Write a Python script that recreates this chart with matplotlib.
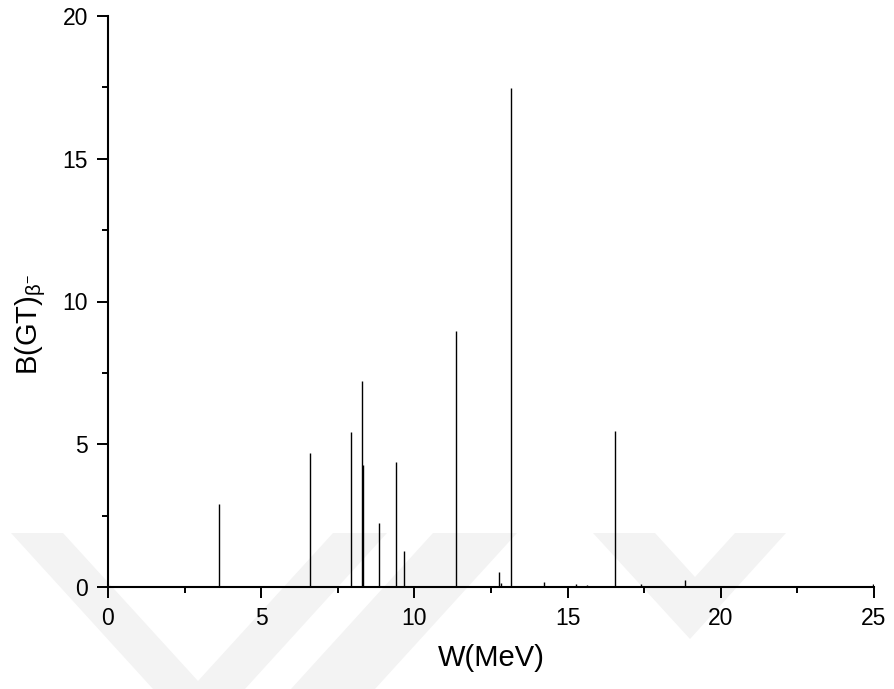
import matplotlib
matplotlib.use("Agg")
import matplotlib.pyplot as plt
from matplotlib.patches import Polygon
from matplotlib.ticker import MultipleLocator

# Gamow-Teller strength distribution
energy_mev = [3.62, 6.59, 7.92, 8.28, 8.33, 8.85, 9.41, 9.65, 11.36, 12.77,
              12.84, 13.16, 14.23, 15.26, 15.62, 16.55, 17.41, 18.83, 19.15,
              19.80, 22.42, 23.31, 24.33, 24.97]
bgt_strength = [2.91, 4.68, 5.42, 7.23, 4.27, 2.23, 4.39, 1.27, 8.97, 0.52,
                0.14, 17.47, 0.18, 0.09, 0.06, 5.46, 0.09, 0.23, 0.05,
                0.05, 0.05, 0.05, 0.05, 0.10]

x_ticks = [0, 5, 10, 15, 20, 25]
y_ticks = [0, 5, 10, 15, 20]

plt.rcParams["font.family"] = ["Liberation Sans", "DejaVu Sans"]
plt.rcParams["mathtext.fontset"] = "custom"
plt.rcParams["mathtext.rm"] = "Liberation Sans"
plt.rcParams["mathtext.it"] = "Liberation Sans:italic"

W, H = 894, 689
fig = plt.figure(figsize=(W / 100, H / 100), dpi=100)

# faint background chevrons (pixel coordinates, top-left origin)
shapes = [
    [(11, 533), (63, 533), (198, 681), (333, 533), (387, 533), (245, 689), (153, 689)],
    [(433, 533), (517, 533), (375, 689), (291, 689)],
    [(593, 533), (655, 533), (695, 577), (735, 533), (786, 533), (690, 639)],
]
for pts in shapes:
    fig.patches.append(Polygon([(x / W, 1 - y / H) for x, y in pts], closed=True,
                               transform=fig.transFigure, facecolor="#f3f3f3",
                               edgecolor="none", zorder=0))

ax = fig.add_axes([108 / W, 1 - 587 / H, (874 - 108) / W, (587 - 16) / H])
ax.set_zorder(2)
ax.patch.set_alpha(0)

ax.vlines(energy_mev, 0, bgt_strength, colors="black", linewidth=1.0)

ax.set_xlim(0, 25)
ax.set_ylim(0, 20)
ax.set_xticks(x_ticks)
ax.set_yticks(y_ticks)
ax.xaxis.set_minor_locator(MultipleLocator(2.5))
ax.yaxis.set_minor_locator(MultipleLocator(2.5))

for side in ("top", "right"):
    ax.spines[side].set_visible(False)
for side in ("left", "bottom"):
    ax.spines[side].set_linewidth(1.5)

ax.tick_params(which="major", direction="out", length=8, width=1.4,
               labelsize=16.5, pad=6.5)
ax.tick_params(which="minor", direction="out", length=4, width=1.4)

ax.set_xlabel("W(MeV)", fontsize=21, labelpad=10)
ax.set_ylabel(r"B(GT)$_{\mathrm{β}^{-}}$", fontsize=21, labelpad=10)
ax.yaxis.label.set_y(0.46)

fig.savefig("out.png", dpi=100)
